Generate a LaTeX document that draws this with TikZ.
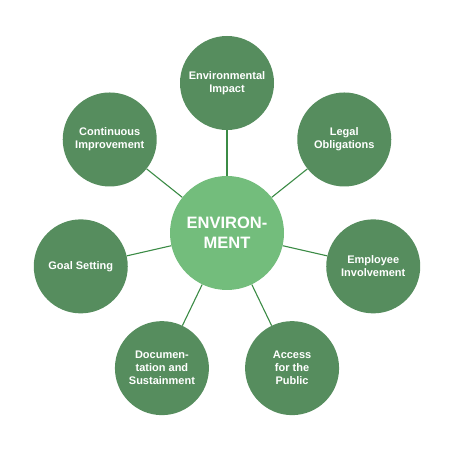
\documentclass[tikz,border=0pt]{standalone}
\usepackage{fontspec}
\setmainfont{Liberation Sans}
\usetikzlibrary{positioning,calc}
\definecolor{EnvDark}{HTML}{568D5E}
\definecolor{EnvLight}{HTML}{73BD7C}
\definecolor{EnvLine}{HTML}{3B8B45}

\begin{document}
\begin{tikzpicture}[x=1pt,y=1pt,
    every node/.style={text=white, align=center, font=\bfseries\fontsize{11}{13}\selectfont},
    topic/.style={circle, fill=EnvDark, minimum size=94pt, inner sep=0pt},
    hub/.style={circle, fill=EnvLight, minimum size=114pt, inner sep=0pt,
      font=\bfseries\fontsize{16.5}{20}\selectfont}]
  \useasboundingbox (0,0) rectangle (450,450);

  \node[hub] (env) at (227,217) {ENVIRON-\\MENT};

  \foreach \i/\txt in {0/{Environmental\\Impact}, 1/{Legal\\Obligations},
      2/{Employee\\Involvement}, 3/{Access\\for the\\Public},
      4/{Documen-\\tation and\\Sustainment}, 5/{Goal Setting},
      6/{Continuous\\Improvement}}
  {
    \node[topic] (t\i) at ($(env)+({90-\i*360/7}:150)$) {\txt};
    \draw[EnvLine, line width=1.1pt] (env) -- (t\i);
  }
\end{tikzpicture}
\end{document}
